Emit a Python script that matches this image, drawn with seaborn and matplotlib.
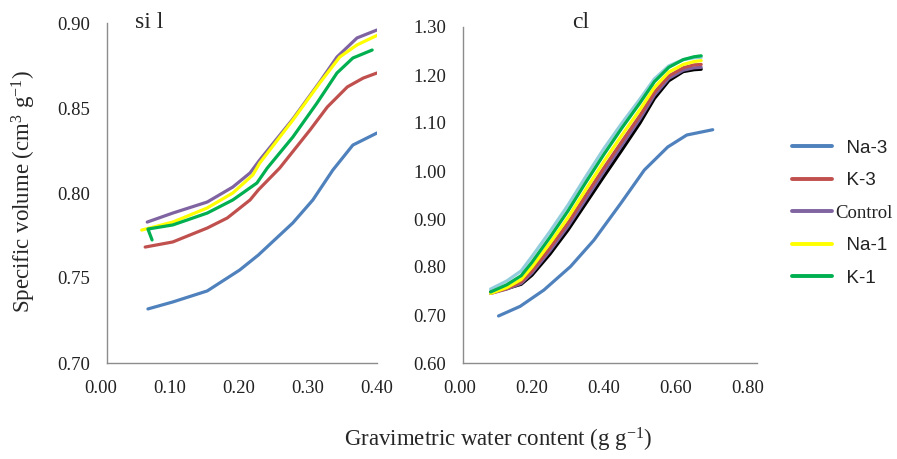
import numpy as np
import pandas as pd
import matplotlib
matplotlib.use("Agg")
import matplotlib.pyplot as plt
from matplotlib.lines import Line2D
import seaborn as sns

sns.set_style("white")
plt.rcParams['font.family'] = ['Liberation Serif', 'DejaVu Serif']
plt.rcParams['mathtext.fontset'] = 'custom'
plt.rcParams['mathtext.rm'] = 'Liberation Serif'
plt.rcParams['mathtext.it'] = 'Liberation Serif:italic'

# ---- si l panel data ----
sil_na3_x = [0.068, 0.104, 0.154, 0.201, 0.228, 0.278, 0.307, 0.336, 0.365, 0.400]
sil_na3_y = [0.7318, 0.7359, 0.7424, 0.7547, 0.7635, 0.7824, 0.7959, 0.8135, 0.8282, 0.8353]
sil_k3_x = [0.064, 0.104, 0.154, 0.183, 0.216, 0.228, 0.259, 0.303, 0.328, 0.357, 0.380, 0.400]
sil_k3_y = [0.7682, 0.7712, 0.7794, 0.7853, 0.7959, 0.8018, 0.8147, 0.8371, 0.8506, 0.8624, 0.8676, 0.8706]
sil_ctrl_x = [0.067, 0.104, 0.154, 0.191, 0.216, 0.230, 0.278, 0.317, 0.342, 0.371, 0.400]
sil_ctrl_y = [0.7829, 0.7882, 0.7947, 0.8035, 0.8118, 0.8194, 0.8435, 0.8653, 0.8800, 0.8912, 0.8959]
sil_na1_x = [0.059, 0.104, 0.154, 0.191, 0.220, 0.230, 0.278, 0.317, 0.346, 0.371, 0.401]
sil_na1_y = [0.7782, 0.7829, 0.7912, 0.8000, 0.8106, 0.8176, 0.8429, 0.8647, 0.8800, 0.8871, 0.8929]
sil_k1_x = [0.074, 0.068, 0.104, 0.154, 0.191, 0.226, 0.241, 0.278, 0.313, 0.342, 0.365, 0.393]
sil_k1_y = [0.7724, 0.7788, 0.7812, 0.7882, 0.7959, 0.8059, 0.8147, 0.8329, 0.8529, 0.8706, 0.8794, 0.8841]

# ---- cl panel data ----
cl_na3_x = [0.107, 0.167, 0.233, 0.307, 0.372, 0.447, 0.512, 0.577, 0.630, 0.702]
cl_na3_y = [0.698, 0.718, 0.752, 0.801, 0.856, 0.933, 1.002, 1.050, 1.075, 1.086]
cl_x = [0.085, 0.13, 0.17, 0.20, 0.25, 0.30, 0.35, 0.40, 0.45, 0.50, 0.54, 0.58, 0.62, 0.65, 0.67]
cl_k1_y = [0.748, 0.763, 0.782, 0.810, 0.862, 0.917, 0.977, 1.035, 1.090, 1.142, 1.186, 1.216, 1.232, 1.238, 1.240]
cl_lblue_y = [0.754, 0.771, 0.792, 0.822, 0.874, 0.929, 0.989, 1.047, 1.100, 1.150, 1.192, 1.219, 1.232, 1.236, 1.237]
cl_na1_y = [0.745, 0.757, 0.774, 0.800, 0.850, 0.903, 0.962, 1.020, 1.075, 1.128, 1.174, 1.206, 1.222, 1.228, 1.230]
cl_k3_y = [0.745, 0.755, 0.769, 0.792, 0.840, 0.892, 0.950, 1.007, 1.062, 1.116, 1.164, 1.198, 1.215, 1.221, 1.222]
cl_ctrl_y = [0.745, 0.754, 0.766, 0.788, 0.834, 0.885, 0.942, 0.999, 1.054, 1.109, 1.158, 1.193, 1.210, 1.215, 1.216]
cl_black_y = [0.748, 0.755, 0.764, 0.783, 0.827, 0.877, 0.933, 0.989, 1.044, 1.100, 1.151, 1.188, 1.207, 1.211, 1.212]

series_names = ["Na-3", "K-3", "Control", "Na-1", "K-1"]
legend_labels = ["  Na-3", "  K-3", "Control", "  Na-1", "  K-1"]
colors = {"Na-3": "#4F81BD", "K-3": "#C0504D", "Control": "#8064A2",
          "Na-1": "#FFFF00", "K-1": "#00B050", "extra1": "#93CDDD", "extra2": "#000000"}

def frame(pairs):
    rows = []
    for name, xs, ys in pairs:
        for i, (x, y) in enumerate(zip(xs, ys)):
            rows.append({"series": name, "x": x, "y": y, "order": i})
    return pd.DataFrame(rows)

sil_df = frame([("Na-3", sil_na3_x, sil_na3_y), ("K-3", sil_k3_x, sil_k3_y),
                ("Control", sil_ctrl_x, sil_ctrl_y), ("Na-1", sil_na1_x, sil_na1_y),
                ("K-1", sil_k1_x, sil_k1_y)])
cl_df = frame([("Na-3", cl_na3_x, cl_na3_y), ("extra2", cl_x, cl_black_y),
               ("Control", cl_x, cl_ctrl_y), ("K-3", cl_x, cl_k3_y),
               ("extra1", cl_x, cl_lblue_y), ("Na-1", cl_x, cl_na1_y),
               ("K-1", cl_x, cl_k1_y)])

fig = plt.figure(figsize=(8.97, 4.59), dpi=100)
ax1 = fig.add_axes([101/897, 1-363/459, 276/897, 340/459])
ax2 = fig.add_axes([460/897, 1-363/459, 288/897, 336/459])

for ax, df in ((ax1, sil_df), (ax2, cl_df)):
    for name in df["series"].unique():
        sub = df[df["series"] == name]
        sns.lineplot(data=sub, x="x", y="y", sort=False, estimator=None,
                     color=colors[name], lw=2.3, ax=ax, legend=False)
    for s in ("top", "right"):
        ax.spines[s].set_visible(False)
    for s in ("left", "bottom"):
        ax.spines[s].set_color("#8c8c8c")
        ax.spines[s].set_linewidth(1.0)
    ax.set_xlabel("")
    ax.set_ylabel("")
    ax.tick_params(axis="both", length=0, labelsize=13.5, colors="#222222")
    ax.tick_params(axis="y", pad=12)
    ax.tick_params(axis="x", pad=12)

ax1.set_xlim(0, 0.40)
ax1.set_ylim(0.70, 0.90)
ax1.spines["left"].set_position(("data", 0.009))
ax1.spines["bottom"].set_bounds(0.009, 0.40)
ax1.set_xticks([0.0, 0.1, 0.2, 0.3, 0.4])
ax1.set_yticks([0.70, 0.75, 0.80, 0.85, 0.90])
ax1.set_xticklabels(["0.00", "0.10", "0.20", "0.30", "0.40"])
ax1.set_yticklabels(["0.70", "0.75", "0.80", "0.85", "0.90"])

ax2.set_xlim(0, 0.80)
ax2.set_ylim(0.60, 1.30)
ax2.spines["left"].set_position(("data", 0.008))
ax2.spines["bottom"].set_bounds(0.008, 0.825)
ax2.set_xticks([0.0, 0.2, 0.4, 0.6, 0.8])
ax2.set_yticks([0.6, 0.7, 0.8, 0.9, 1.0, 1.1, 1.2, 1.3])
ax2.set_xticklabels(["0.00", "0.20", "0.40", "0.60", "0.80"])
ax2.set_yticklabels(["0.60", "0.70", "0.80", "0.90", "1.00", "1.10", "1.20", "1.30"])

fig.text(135/897, 1-22/459, "si l", fontsize=17, ha="left", va="center")
fig.text(581/897, 1-22/459, "cl", fontsize=17, ha="center", va="center")
fig.text(24/897, 1-192/459, r"Specific volume (cm$^{3}$ g$^{-1}$)", rotation=90,
         fontsize=16.5, ha="center", va="center")
fig.text(498/897, 1-440/459, r"Gravimetric water content (g g$^{-1}$)",
         fontsize=16.5, ha="center", va="center")

handles = [Line2D([0], [0], color=colors[n], lw=2.8) for n in series_names]
leg = fig.legend(handles, legend_labels, loc="center left",
                 bbox_to_anchor=(792/897, 1-213/459), frameon=False,
                 borderpad=0, borderaxespad=0,
                 handlelength=2.13, labelspacing=0.82, handletextpad=0.2,
                 prop={"family": "Liberation Sans", "size": 13.5})
for t in leg.get_texts():
    t.set_color("#222222")
    if t.get_text() == "Control":
        t.set_fontfamily("Liberation Serif")
        t.set_fontsize(13.5)

fig.savefig("out.png", dpi=100)
